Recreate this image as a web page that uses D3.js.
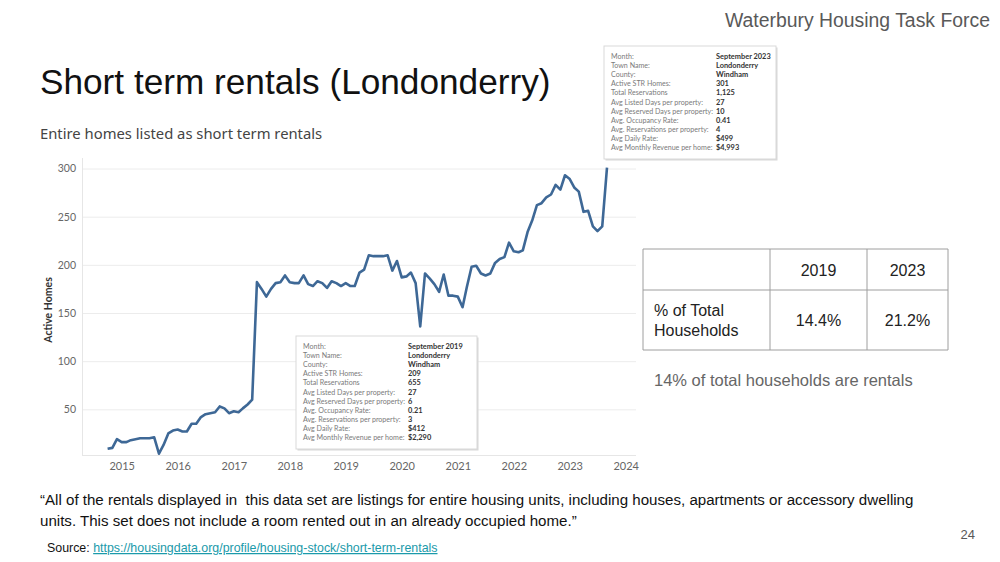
<!DOCTYPE html>
<html><head><meta charset="utf-8">
<script src="https://cdn.jsdelivr.net/npm/d3@7"></script>
<style>body{margin:0;background:#fff}svg{display:block}text{white-space:pre}</style>
</head><body><svg id="c" width="1000" height="562"></svg>
<script>
// ---- data (monthly active STR homes, first month = Oct 2014) ----
const startMonth = "2014-10";
const values2014 = [9, 10, 19];
const values2015 = [16, 16, 18, 19, 20, 20, 20, 21, 4, 13, 25, 28];
const values2016 = [29, 27, 27, 35, 35, 42, 45, 46, 47, 53, 51, 46];
const values2017 = [48, 47, 51, 55, 60, 182, 175, 167, 175, 181, 182, 189];
const values2018 = [182, 181, 181, 189, 180, 178, 183, 181, 176, 183, 181, 178];
const values2019 = [181, 178, 178, 192, 195, 210, 209, 209, 209, 210, 194, 204];
const values2020 = [187, 188, 192, 181, 136, 191, 186, 180, 172, 190, 168, 168];
const values2021 = [167, 156, 177, 198, 199, 191, 189, 191, 202, 206, 208, 223];
const values2022 = [214, 213, 215, 234, 246, 262, 264, 270, 273, 283, 278, 293];
const values2023 = [289, 280, 276, 255, 256, 240, 235, 240, 301];
const xTickYears = [2015, 2016, 2017, 2018, 2019, 2020, 2021, 2022, 2023, 2024];
const yTicks = [50, 100, 150, 200, 250, 300];

const tipLabels = ["Month:", "Town Name:", "County:", "Active STR Homes:", "Total Reservations",
  "Avg Listed Days per property:", "Avg Reserved Days per property:", "Avg. Occupancy Rate:",
  "Avg. Reservations per property:", "Avg Daily Rate:", "Avg Monthly Revenue per home:"];
const tip2019Values = ["September 2019", "Londonderry", "Windham", "209", "655", "27", "6", "0.21", "3", "$412", "$2,290"];
const tip2023Values = ["September 2023", "Londonderry", "Windham", "301", "1,125", "27", "10", "0.41", "4", "$499", "$4,993"];

const tableHeader = ["", "2019", "2023"];
const tableRowLabel = ["% of Total", "Households"];
const tableRowValues = ["14.4%", "21.2%"];

// ---- build ----
const allValues = [].concat(values2014, values2015, values2016, values2017, values2018,
  values2019, values2020, values2021, values2022, values2023);
const start = d3.timeParse("%Y-%m")(startMonth);
const data = allValues.map((v, i) => ({ date: d3.timeMonth.offset(start, i), value: v }));

const svg = d3.select("#c");
svg.append("rect").attr("width", 1000).attr("height", 562).attr("fill", "#fff");

const SLIDE = "'Liberation Sans', Arial, sans-serif";
const CH = "'Noto Sans', 'Open Sans', sans-serif";
const TIP = "Lato, sans-serif";

// header
svg.append("text").attr("x", 990).attr("y", 27).attr("text-anchor", "end")
  .attr("font-family", SLIDE).attr("font-size", 19.4).attr("fill", "#595959")
  .text("Waterbury Housing Task Force");
svg.append("text").attr("x", 40).attr("y", 94)
  .attr("font-family", SLIDE).attr("font-size", 35.2).attr("fill", "#111")
  .text("Short term rentals (Londonderry)");

// chart subtitle
svg.append("text").attr("x", 40).attr("y", 139)
  .attr("font-family", CH).attr("font-size", 14.8).attr("fill", "#444")
  .text("Entire homes listed as short term rentals");

const x = d3.scaleTime().domain([new Date(2015, 0, 1), new Date(2024, 0, 1)]).range([121.7, 625.7]);
const y = d3.scaleLinear().domain([0, 300]).range([457.5, 168.5]);
const plotLeft = 82, plotRight = 636, plotBottom = 455.5;

// gridlines
const grid = svg.append("g").attr("transform", `translate(${plotLeft},0)`)
  .call(d3.axisLeft(y).tickValues(yTicks).tickSize(-(plotRight - plotLeft)).tickFormat(""));
grid.select(".domain").remove();
grid.selectAll("line").attr("stroke", "#ececec").attr("stroke-width", 1);

// plot edges
svg.append("line").attr("x1", plotLeft + 0.5).attr("x2", plotLeft + 0.5).attr("y1", 158).attr("y2", plotBottom)
  .attr("stroke", "#e6e6e6");
svg.append("line").attr("x1", plotLeft).attr("x2", plotRight).attr("y1", plotBottom).attr("y2", plotBottom)
  .attr("stroke", "#e6e6e6");

// y axis labels
const ya = svg.append("g").attr("transform", `translate(${plotLeft},0)`)
  .call(d3.axisLeft(y).tickValues(yTicks).tickSize(0).tickPadding(6));
ya.select(".domain").remove();
ya.selectAll("text").attr("font-family", TIP).attr("font-size", 10.5).attr("fill", "#666");

svg.append("text").attr("transform", "translate(52,310) rotate(-90)").attr("text-anchor", "middle")
  .attr("font-family", TIP).attr("font-size", 10.5).attr("font-weight", "bold").attr("fill", "#333")
  .text("Active Homes");

// x axis labels
const xa = svg.append("g").attr("transform", `translate(0,${plotBottom})`)
  .call(d3.axisBottom(x).tickValues(xTickYears.map(yr => new Date(yr, 0, 1)))
    .tickFormat(d3.timeFormat("%Y")).tickSize(0).tickPadding(7));
xa.select(".domain").remove();
xa.selectAll("text").attr("font-family", TIP).attr("font-size", 11).attr("fill", "#666");

// line
svg.append("path").datum(data)
  .attr("d", d3.line().x(d => x(d.date)).y(d => y(d.value)))
  .attr("fill", "none").attr("stroke", "#3e6896").attr("stroke-width", 2.6)
  .attr("stroke-linejoin", "round");

// tooltips
function tooltip(bx, by, bw, bh, valX, values) {
  const g = svg.append("g");
  g.append("rect").attr("x", bx + 1.5).attr("y", by + 1.5).attr("width", bw).attr("height", bh)
    .attr("fill", "#d8d8d8");
  g.append("rect").attr("x", bx).attr("y", by).attr("width", bw).attr("height", bh)
    .attr("fill", "#fff").attr("stroke", "#d9d9d9");
  tipLabels.forEach((l, i) => {
    g.append("text").attr("x", bx + 7).attr("y", by + 13 + i * 9.1)
      .attr("font-family", TIP).attr("font-size", 7.1).attr("fill", "#7a7a7a").text(l);
    g.append("text").attr("x", valX).attr("y", by + 13 + i * 9.1)
      .attr("font-family", TIP).attr("font-size", 7.4).attr("font-weight", "bold").attr("fill", "#333")
      .text(values[i]);
  });
}
tooltip(604, 46, 172, 113, 716, tip2023Values);
tooltip(296, 336, 181, 113, 408, tip2019Values);

// table
const tx = [643, 770, 867, 948], ty = [249, 290, 350];
const tg = svg.append("g");
tx.forEach(v => tg.append("line").attr("x1", v).attr("x2", v).attr("y1", ty[0]).attr("y2", ty[2])
  .attr("stroke", "#9e9e9e"));
ty.forEach(v => tg.append("line").attr("x1", tx[0]).attr("x2", tx[3]).attr("y1", v).attr("y2", v)
  .attr("stroke", "#9e9e9e"));
tableHeader.forEach((t, i) => {
  if (!t) return;
  tg.append("text").attr("x", (tx[i] + tx[i + 1]) / 2).attr("y", 276).attr("text-anchor", "middle")
    .attr("font-family", SLIDE).attr("font-size", 16).attr("fill", "#222").text(t);
});
tableRowLabel.forEach((t, i) => {
  tg.append("text").attr("x", 654).attr("y", 316 + i * 20)
    .attr("font-family", SLIDE).attr("font-size", 16).attr("fill", "#222").text(t);
});
tableRowValues.forEach((t, i) => {
  tg.append("text").attr("x", (tx[i + 1] + tx[i + 2]) / 2).attr("y", 326).attr("text-anchor", "middle")
    .attr("font-family", SLIDE).attr("font-size", 16).attr("fill", "#222").text(t);
});
svg.append("text").attr("x", 654).attr("y", 386)
  .attr("font-family", SLIDE).attr("font-size", 16.5).attr("fill", "#666")
  .text("14% of total households are rentals");

// quote
svg.append("text").attr("x", 40).attr("y", 505)
  .attr("font-family", SLIDE).attr("font-size", 15.1).attr("fill", "#111")
  .text("\u201CAll of the rentals displayed in  this data set are listings for entire housing units, including houses, apartments or accessory dwelling");
svg.append("text").attr("x", 40).attr("y", 526)
  .attr("font-family", SLIDE).attr("font-size", 15.1).attr("fill", "#111")
  .text("units. This set does not include a room rented out in an already occupied home.\u201D");

const src = svg.append("text").attr("x", 47).attr("y", 552)
  .attr("font-family", SLIDE).attr("font-size", 12.4).attr("fill", "#111");
src.append("tspan").text("Source: ");
src.append("tspan").attr("fill", "#1b9aaa").attr("text-decoration", "underline")
  .text("https://housingdata.org/profile/housing-stock/short-term-rentals");

svg.append("text").attr("x", 975).attr("y", 539).attr("text-anchor", "end")
  .attr("font-family", SLIDE).attr("font-size", 13).attr("fill", "#595959").text("24");
</script></body></html>
